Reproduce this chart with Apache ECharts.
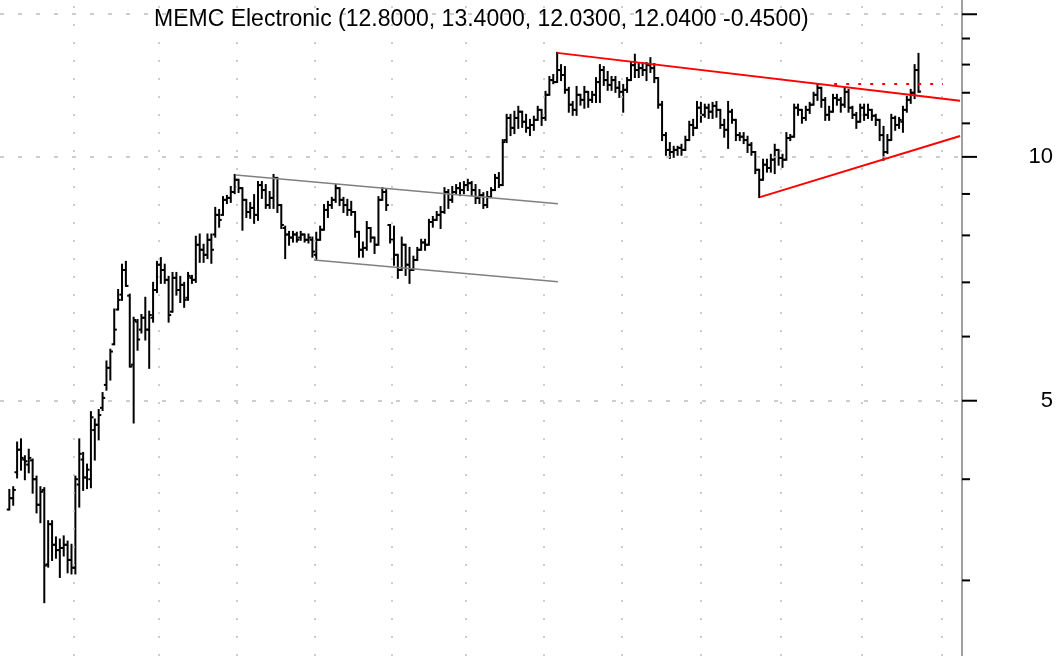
<!DOCTYPE html>
<html>
<head>
  <meta charset="utf-8">
  <title>MEMC Electronic</title>
  <script src="https://cdn.jsdelivr.net/npm/echarts@6.0.0/dist/echarts.min.js"></script>
  <style>
    html, body {
      margin: 0;
      padding: 0;
      background: #fff;
    }

    #chart {
      width: 1061px;
      height: 656px;
    }
  </style>
</head>
<body>
<div id="chart"></div>
<script>
  const chartTitle = 'MEMC Electronic (12.8000, 13.4000, 12.0300, 12.0400 -0.4500)'

  // daily bars, oldest first
  const opens = [
    3.67, 3.79, 4.08, 4.35, 4.23, 4.17, 4.22, 4.00, 3.72, 3.88,
    3.14, 3.52, 3.32, 3.27, 3.29, 3.32, 3.18, 3.11, 3.94, 4.23,
    4.02, 4.00, 4.60, 4.67, 4.90, 5.23, 5.49, 5.87, 6.48, 6.76,
    7.25, 6.74, 5.54, 6.26, 6.12, 6.33, 6.12, 6.33, 6.85, 7.36,
    7.25, 7.05, 6.44, 7.09, 6.85, 6.95, 6.70, 7.09, 7.05, 7.79,
    7.68, 7.57, 7.90, 8.02, 8.48, 8.48, 8.85, 8.90, 9.05, 9.37,
    9.15, 8.85, 8.55, 8.65, 8.48, 9.23, 9.10, 8.72, 8.90, 9.42,
    8.72, 8.17, 8.02, 7.95, 8.02, 7.95, 8.02, 7.90, 7.90, 7.57,
    7.90, 8.13, 8.60, 8.72, 8.85, 9.15, 8.85, 8.72, 8.60, 8.55,
    8.08, 7.68, 7.72, 8.17, 7.95, 7.79, 8.85, 9.05, 8.24, 7.90,
    7.57, 7.25, 7.79, 7.36, 7.25, 7.46, 7.68, 7.84, 7.79, 8.31,
    8.36, 8.48, 8.55, 9.05, 8.85, 9.05, 9.15, 9.10, 9.23, 9.28,
    9.10, 8.90, 8.97, 8.72, 8.92, 9.10, 9.42, 9.23, 10.49, 11.17,
    10.86, 11.17, 11.37, 11.05, 10.86, 10.95, 11.11, 11.43, 11.17, 11.93,
    12.44, 12.37, 12.80, 12.62, 12.10, 11.60, 11.43, 11.93, 11.76, 12.03,
    11.76, 11.93, 12.37, 12.80, 12.44, 12.27, 12.44, 12.17, 12.03, 12.10,
    12.44, 12.98, 12.80, 12.87, 12.80, 12.98, 12.87, 12.51, 11.60, 10.64,
    10.20, 10.14, 10.20, 10.26, 10.20, 10.49, 10.95, 10.86, 11.50, 11.27,
    11.50, 11.37, 11.56, 11.43, 10.95, 10.80, 11.37, 11.11, 10.64, 10.59,
    10.49, 10.35, 10.14, 9.64, 9.37, 9.78, 9.69, 9.92, 10.20, 9.97,
    9.92, 10.55, 10.59, 11.50, 11.43, 11.17, 11.43, 11.60, 11.93, 12.17,
    11.76, 11.27, 11.37, 11.82, 11.76, 11.60, 12.03, 11.50, 11.27, 11.05,
    11.50, 11.27, 11.43, 11.24, 11.11, 10.64, 10.14, 10.49, 11.17, 10.95,
    11.05, 11.43, 11.76, 12.00, 12.80
  ]
  const highs = [
    3.88, 3.91, 4.44, 4.48, 4.27, 4.35, 4.23, 4.03, 3.91, 3.90,
    3.55, 3.55, 3.39, 3.37, 3.40, 3.35, 3.32, 4.03, 4.48, 4.31,
    4.17, 4.84, 4.74, 4.87, 5.11, 5.59, 5.78, 6.48, 6.85, 7.36,
    7.42, 6.76, 6.33, 6.29, 6.38, 6.70, 6.44, 6.99, 7.42, 7.50,
    7.36, 7.11, 7.19, 7.19, 7.11, 6.99, 7.19, 7.13, 7.97, 8.02,
    7.79, 8.02, 8.02, 8.65, 8.60, 8.92, 8.95, 9.18, 9.50, 9.37,
    9.15, 8.85, 8.77, 8.97, 9.31, 9.31, 9.23, 9.05, 9.50, 9.42,
    8.72, 8.20, 8.08, 8.08, 8.06, 8.08, 8.02, 8.02, 7.95, 8.06,
    8.20, 8.72, 8.80, 8.90, 9.23, 9.15, 8.90, 8.85, 8.80, 8.55,
    8.08, 7.84, 8.31, 8.17, 7.95, 8.92, 9.15, 9.10, 8.24, 8.20,
    7.57, 7.95, 7.79, 7.72, 7.53, 7.72, 7.90, 7.90, 8.36, 8.43,
    8.55, 8.67, 9.15, 9.10, 9.18, 9.23, 9.28, 9.31, 9.37, 9.31,
    9.23, 9.10, 9.02, 9.05, 9.15, 9.50, 9.55, 10.49, 11.27, 11.27,
    11.37, 11.53, 11.37, 11.27, 11.11, 11.21, 11.53, 11.43, 12.03, 12.55,
    12.62, 13.44, 12.98, 12.91, 12.17, 11.69, 12.20, 11.93, 12.20, 12.03,
    12.03, 12.51, 12.98, 12.91, 12.73, 12.55, 12.55, 12.37, 12.27, 12.51,
    13.06, 13.37, 13.02, 13.06, 13.06, 13.24, 13.02, 12.51, 11.69, 10.70,
    10.40, 10.29, 10.29, 10.35, 10.59, 11.05, 11.11, 11.69, 11.66, 11.60,
    11.60, 11.66, 11.69, 11.43, 11.11, 11.69, 11.43, 11.11, 10.70, 10.70,
    10.59, 10.40, 10.14, 9.64, 9.92, 9.92, 10.06, 10.35, 10.20, 10.06,
    10.70, 10.64, 11.60, 11.60, 11.43, 11.53, 11.66, 12.00, 12.27, 12.17,
    11.82, 11.53, 11.93, 11.93, 11.82, 12.17, 12.10, 11.53, 11.33, 11.60,
    11.60, 11.60, 11.43, 11.27, 11.11, 10.89, 10.64, 11.27, 11.21, 11.17,
    11.53, 11.86, 12.10, 12.98, 13.40
  ]
  const lows = [
    3.67, 3.72, 4.02, 4.11, 4.00, 4.08, 3.85, 3.64, 3.54, 2.82,
    3.12, 3.18, 3.20, 3.03, 3.22, 3.07, 3.06, 3.06, 3.70, 3.88,
    3.90, 3.91, 4.23, 4.48, 4.87, 5.16, 5.31, 5.87, 6.48, 6.66,
    6.93, 5.51, 4.70, 5.78, 6.07, 5.95, 5.49, 6.26, 6.81, 6.99,
    6.99, 6.26, 6.44, 6.76, 6.62, 6.53, 6.66, 6.99, 7.01, 7.42,
    7.42, 7.50, 7.40, 7.97, 8.20, 8.48, 8.77, 8.80, 9.02, 9.05,
    8.13, 8.43, 8.41, 8.29, 8.36, 8.90, 8.65, 8.65, 8.65, 8.55,
    8.17, 7.50, 7.79, 7.86, 7.86, 7.90, 7.86, 7.84, 7.53, 7.46,
    7.90, 8.13, 8.43, 8.65, 8.80, 8.72, 8.55, 8.48, 8.48, 7.97,
    7.53, 7.53, 7.68, 7.86, 7.61, 7.79, 8.85, 8.60, 7.84, 7.36,
    7.09, 7.25, 7.15, 6.99, 7.25, 7.46, 7.68, 7.68, 7.79, 8.20,
    8.36, 8.17, 8.53, 8.65, 8.80, 9.02, 8.97, 9.02, 9.10, 8.97,
    8.77, 8.77, 8.65, 8.67, 8.92, 9.10, 9.18, 9.23, 10.43, 10.64,
    10.70, 10.86, 10.89, 10.74, 10.64, 10.80, 11.11, 10.95, 11.11, 11.93,
    12.33, 12.37, 12.44, 12.00, 11.37, 11.27, 11.27, 11.60, 11.50, 11.53,
    11.69, 11.69, 11.69, 12.27, 12.10, 12.10, 12.03, 11.86, 11.37, 12.03,
    12.44, 12.55, 12.55, 12.62, 12.44, 12.73, 12.37, 11.50, 10.49, 10.06,
    9.97, 10.00, 10.06, 10.06, 10.20, 10.49, 10.64, 10.86, 11.05, 11.21,
    11.17, 11.17, 11.21, 10.86, 10.59, 10.26, 11.02, 10.49, 10.49, 10.40,
    10.14, 10.06, 9.55, 8.92, 9.37, 9.59, 9.59, 9.55, 9.78, 9.72,
    9.92, 10.49, 10.59, 11.27, 11.02, 11.11, 11.33, 11.60, 11.76, 11.53,
    11.11, 11.11, 11.37, 11.60, 11.37, 11.53, 11.37, 11.17, 10.86, 11.05,
    11.11, 11.17, 11.11, 10.95, 10.49, 9.92, 10.11, 10.49, 10.80, 10.86,
    10.74, 11.37, 11.66, 11.82, 12.03
  ]
  const closes = [
    3.79, 3.88, 4.35, 4.25, 4.21, 4.25, 4.00, 3.72, 3.86, 3.13,
    3.52, 3.32, 3.27, 3.29, 3.32, 3.18, 3.11, 4.00, 4.30, 4.02,
    4.11, 4.77, 4.67, 4.80, 5.04, 5.49, 5.75, 6.12, 6.66, 7.25,
    6.93, 5.51, 6.29, 5.95, 6.33, 6.12, 6.38, 6.85, 7.36, 7.25,
    7.05, 6.38, 7.09, 6.85, 6.95, 6.66, 7.13, 7.05, 7.79, 7.68,
    7.57, 7.90, 7.68, 8.48, 8.36, 8.85, 8.90, 9.05, 9.37, 9.15,
    8.85, 8.55, 8.65, 8.48, 9.23, 9.10, 8.72, 8.90, 9.42, 8.72,
    8.24, 8.02, 7.95, 8.02, 7.90, 8.02, 7.90, 7.95, 7.64, 7.90,
    8.13, 8.60, 8.72, 8.85, 9.15, 8.85, 8.72, 8.60, 8.55, 8.08,
    7.68, 7.72, 8.17, 7.95, 7.79, 8.85, 9.05, 8.72, 7.90, 7.57,
    7.25, 7.79, 7.36, 7.25, 7.46, 7.68, 7.84, 7.79, 8.31, 8.36,
    8.48, 8.55, 9.05, 8.85, 9.05, 9.15, 9.10, 9.23, 9.28, 9.10,
    8.90, 8.97, 8.72, 8.92, 9.10, 9.42, 9.23, 10.43, 11.17, 10.86,
    11.17, 11.37, 11.05, 10.86, 10.95, 11.11, 11.43, 11.17, 11.93, 12.44,
    12.37, 12.80, 12.62, 12.10, 11.60, 11.43, 11.93, 11.76, 12.03, 11.76,
    11.93, 12.37, 12.80, 12.44, 12.27, 12.44, 12.17, 12.03, 12.10, 12.44,
    12.98, 12.80, 12.87, 12.80, 12.98, 12.87, 12.51, 11.60, 10.64, 10.20,
    10.14, 10.20, 10.26, 10.20, 10.49, 10.95, 10.86, 11.50, 11.27, 11.50,
    11.37, 11.56, 11.43, 10.95, 10.80, 11.37, 11.11, 10.64, 10.59, 10.49,
    10.35, 10.14, 9.64, 9.37, 9.78, 9.69, 9.92, 10.20, 9.97, 9.92,
    10.55, 10.59, 11.50, 11.43, 11.17, 11.43, 11.60, 11.93, 12.17, 11.76,
    11.27, 11.37, 11.82, 11.76, 11.60, 12.03, 11.50, 11.27, 11.05, 11.50,
    11.27, 11.43, 11.24, 11.11, 10.64, 10.14, 10.49, 11.17, 10.95, 11.11,
    11.43, 11.76, 12.00, 12.80, 12.04
  ]

  // month boundaries, in bar index units
  const monthStarts = [16.5, 38.5, 58.5, 78.5, 98.5, 117.5, 137.5, 157.5, 178, 198.5, 219.5, 240]

  // price axis ticks (log scale)
  const yTicks = [3, 4, 5, 6, 7, 8, 9, 10, 11, 12, 13, 14, 15]
  const yMajorTicks = [5, 10, 15]
  const yLabels = [5, 10]

  // drawn trend lines: [bar index, price]
  const channelTop = [[58.3, 9.50], [141.2, 8.75]]
  const channelBottom = [[78.4, 7.46], [141.2, 7.01]]
  const triangleTop = [[141.0, 13.44], [244.7, 11.73]]
  const triangleBottom = [[193.2, 8.92], [244.7, 10.61]]
  const breakoutLevel = [[212.3, 12.30], [240.3, 12.30]]

  const X_MIN = -2.4
  const X_MAX = 245.2
  const FONT = '"Liberation Sans", Arial, sans-serif'

  const ohlc = closes.map((c, i) => [i, opens[i], highs[i], lows[i], c])

  function renderBar(params, api) {
    const i = api.value(0)
    const hi = api.coord([i, api.value(2)])
    const lo = api.coord([i, api.value(3)])
    const op = api.coord([i, api.value(1)])
    const cl = api.coord([i, api.value(4)])
    const tick = 2.6
    const style = { stroke: '#000', lineWidth: 2 }
    return {
      type: 'group',
      children: [
        { type: 'line', shape: { x1: hi[0], y1: hi[1] - 1, x2: lo[0], y2: lo[1] + 1 }, style: style },
        { type: 'line', shape: { x1: op[0] - tick, y1: op[1], x2: op[0], y2: op[1] }, style: style },
        { type: 'line', shape: { x1: cl[0], y1: cl[1], x2: cl[0] + tick, y2: cl[1] }, style: style }
      ]
    }
  }

  function renderTick(params, api) {
    const v = api.value(1)
    const p = api.coord([X_MAX, v])
    const len = yMajorTicks.includes(v) ? 15 : 8
    const children = [
      { type: 'line', shape: { x1: p[0], y1: p[1], x2: p[0] + len, y2: p[1] }, style: { stroke: '#000', lineWidth: 2 } }
    ]
    if (yLabels.includes(v)) {
      children.push({
        type: 'text',
        x: p[0] + 91,
        y: p[1],
        style: { text: String(v), fill: '#000', font: '22px ' + FONT, align: 'right', verticalAlign: 'middle' }
      })
    }
    return { type: 'group', children: children }
  }

  function trendLine(points, color, width, dash) {
    return {
      type: 'line',
      data: points,
      showSymbol: false,
      silent: true,
      z: 5,
      lineStyle: { color: color, width: width, type: dash || 'solid' }
    }
  }

  const gridStyle = { color: '#bdbdbd', width: 1.5 }

  const chart = echarts.init(document.getElementById('chart'), null, { renderer: 'canvas' })
  chart.setOption({
    animation: false,
    backgroundColor: '#fff',
    title: {
      text: chartTitle,
      left: 154,
      top: 8,
      padding: 0,
      textStyle: { color: '#000', fontSize: 23, fontWeight: 'normal', fontFamily: FONT }
    },
    grid: { left: 0, right: 99, top: 0, bottom: 0 },
    xAxis: {
      type: 'value',
      min: X_MIN,
      max: X_MAX,
      show: false
    },
    yAxis: {
      type: 'log',
      min: 2.42,
      max: 15.62,
      position: 'right',
      axisLine: { show: true, onZero: false, lineStyle: { color: '#808080', width: 1.5 } },
      axisTick: { show: false },
      axisLabel: { show: false },
      splitLine: { show: false }
    },
    series: [
      {
        name: 'grid',
        type: 'line',
        data: [],
        z: 1,
        silent: true,
        markLine: {
          silent: true,
          symbol: 'none',
          label: { show: false },
          data: yMajorTicks.map(v => ({ yAxis: v, lineStyle: Object.assign({ type: [4, 14] }, gridStyle) }))
            .concat(monthStarts.map(v => ({ xAxis: v, lineStyle: Object.assign({ type: [2, 16] }, gridStyle) })))
        }
      },
      {
        name: 'MEMC',
        type: 'custom',
        renderItem: renderBar,
        data: ohlc,
        encode: { x: 0, y: [1, 2, 3, 4] },
        z: 3
      },
      trendLine(channelTop, '#808080', 1.5),
      trendLine(channelBottom, '#808080', 1.5),
      trendLine(triangleTop, '#ff0000', 2),
      trendLine(triangleBottom, '#ff0000', 2),
      trendLine(breakoutLevel, '#ff0000', 2, [3, 9]),
      {
        name: 'ticks',
        type: 'custom',
        renderItem: renderTick,
        data: yTicks.map(v => [X_MAX, v]),
        encode: { x: 0, y: 1 },
        z: 6,
        silent: true
      }
    ]
  })
</script>
</body>
</html>
